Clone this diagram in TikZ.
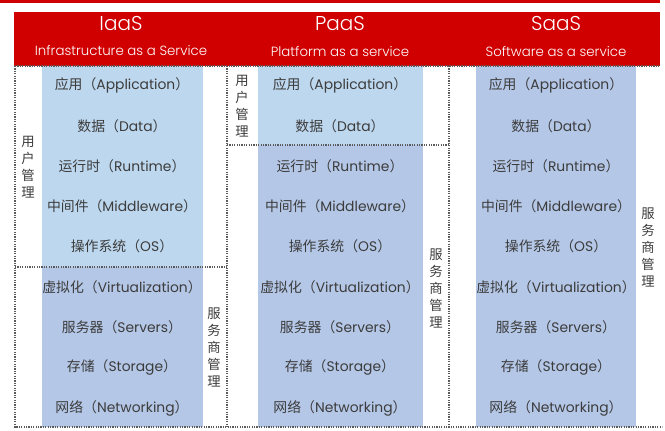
\documentclass[tikz,border=0pt]{standalone}
\usepackage{fontspec}
\setmainfont{Poppins}
\newfontfamily\lightfont{Poppins Light}
\newfontfamily\cjk{Noto Sans CJK SC}
\definecolor{hdred}{RGB}{208,0,0}
\definecolor{lblue}{RGB}{189,215,238}
\definecolor{dblue}{RGB}{180,199,231}
\definecolor{txtgray}{RGB}{60,60,60}
\definecolor{dotgray}{RGB}{90,90,90}
\newcommand\rowtxt[2]{{\cjk #1（}#2{\cjk ）}}
\tikzset{
  title/.style={text=white, font=\lightfont\fontsize{15}{18}\selectfont, inner sep=0pt},
  subtitle/.style={text=white, font=\lightfont\fontsize{10}{12}\selectfont, inner sep=0pt},
  layer/.style={text=txtgray, font=\fontsize{10.4}{12}\selectfont, inner sep=0pt},
  vlab/.style={text=txtgray, font=\cjk\fontsize{10}{12.75}\selectfont, align=center, inner sep=0pt},
  dotline/.style={draw=dotgray, line width=0.8pt, dash pattern=on 0.9pt off 0.9pt}
}
\begin{document}
\begin{tikzpicture}[x=0.75pt,y=-0.75pt]
\useasboundingbox (0,0) rectangle (665,430);
% header
\fill[hdred] (0,0) rectangle (660,2.5);
\fill[hdred] (14,12) rectangle (660,65.5);
% blue columns
\fill[lblue] (42,66) rectangle (203,267);
\fill[dblue] (42,267) rectangle (203,427);
\fill[lblue] (258,66) rectangle (423,145);
\fill[dblue] (258,145) rectangle (423,427);
\fill[dblue] (476,66) rectangle (636,427);
% dotted frames
\draw[dotline] (15,66) -- (660,66);
\draw[dotline] (15,66) -- (15,427) -- (662,427);
\draw[dotline] (227,66) -- (227,427);
\draw[dotline] (449,66) -- (449,427);
\draw[dotline] (15,267) -- (227,267);
\draw[dotline] (227,145) -- (449,145);
% titles
\node[title] (ti) at (121,24) {IaaS};
\node[subtitle] (si) at (121,51) {Infrastructure as a Service};
\node[title] (tp) at (340,24) {PaaS};
\node[subtitle] (sp) at (340,51) {Platform as a service};
\node[title] (ts) at (556,24) {SaaS};
\node[subtitle] (ss) at (556,51) {Software as a service};
% rows
\foreach \cx/\col in {122/i,340/p,556/s}{
  \node[layer] (\col1) at (\cx,85) {\rowtxt{应用}{Application}};
  \node[layer] (\col2) at (\cx,126) {\rowtxt{数据}{Data}};
  \node[layer] (\col3) at (\cx,166) {\rowtxt{运行时}{Runtime}};
  \node[layer] (\col4) at (\cx,206) {\rowtxt{中间件}{Middleware}};
  \node[layer] (\col5) at (\cx,246) {\rowtxt{操作系统}{OS}};
  \node[layer] (\col6) at (\cx,287) {\rowtxt{虚拟化}{Virtualization}};
  \node[layer] (\col7) at (\cx,327) {\rowtxt{服务器}{Servers}};
  \node[layer] (\col8) at (\cx,367) {\rowtxt{存储}{Storage}};
  \node[layer] (\col9) at (\cx,408) {\rowtxt{网络}{Networking}};
}
% vertical labels
\node[vlab] (iu) at (28,167) {用\\户\\管\\理};
\node[vlab] (ip) at (214,347) {服\\务\\商\\管\\理};
\node[vlab] (pu) at (242,106) {用\\户\\管\\理};
\node[vlab] (pp) at (436,288) {服\\务\\商\\管\\理};
\node[vlab] (sp2) at (648,247) {服\\务\\商\\管\\理};
\end{tikzpicture}
\end{document}
